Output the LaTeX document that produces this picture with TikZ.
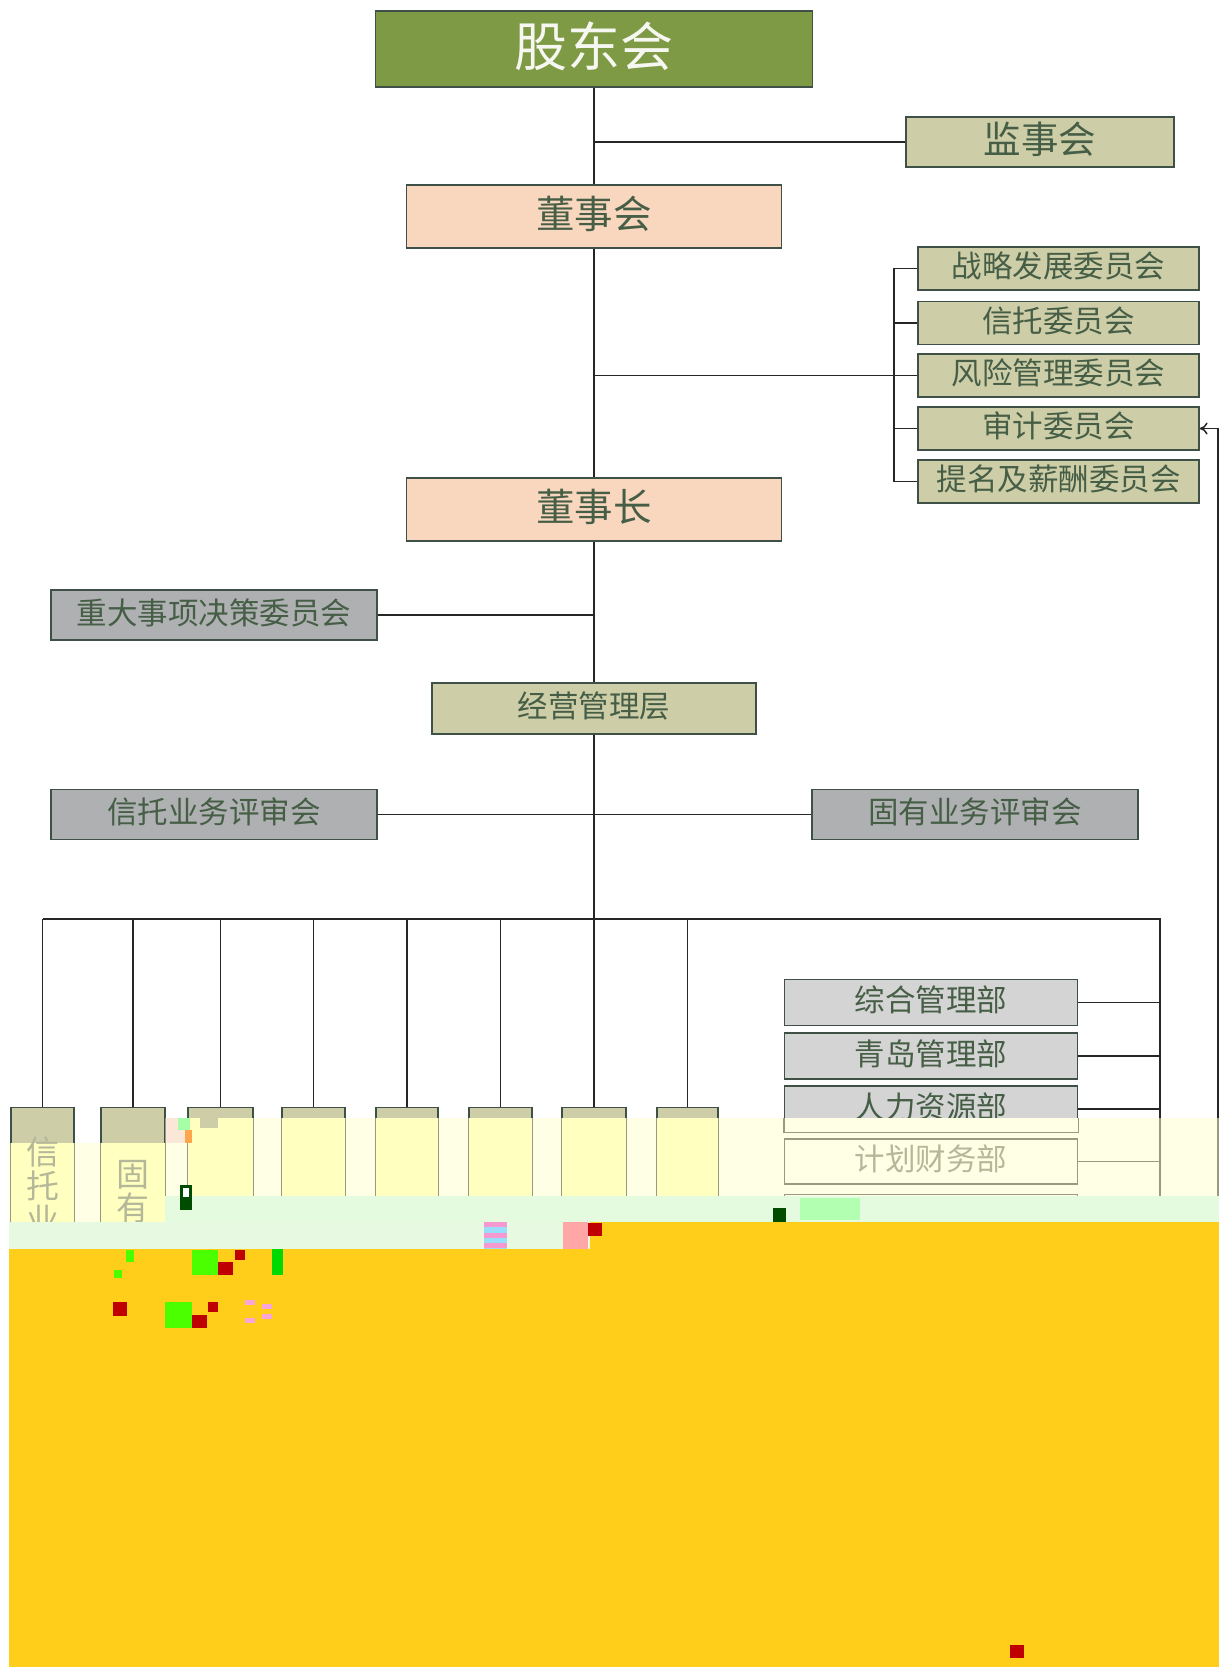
\documentclass[tikz,border=0pt]{standalone}
\usepackage{fontspec}
\usetikzlibrary{arrows.meta}
\setmainfont{Noto Sans CJK SC}
\definecolor{olive}{HTML}{7F9A44}
\definecolor{sand}{HTML}{CDCDA8}
\definecolor{peach}{HTML}{F9D6BE}
\definecolor{midgray}{HTML}{AEB0B2}
\definecolor{lightgray}{HTML}{D4D4D4}
\definecolor{ink}{HTML}{465E46}
\definecolor{edge}{HTML}{3F5147}
\definecolor{paleband}{HTML}{FFFFE6}
\definecolor{boxyellow}{HTML}{FFFFC0}
\definecolor{fadeedge}{HTML}{9A9A80}
\definecolor{fadeink}{HTML}{B4B898}
\definecolor{greenband}{HTML}{E4FBE0}
\definecolor{lowband}{HTML}{E8F9E2}
\definecolor{amber}{HTML}{FFCE1B}
\tikzset{
  box/.style={draw=edge,line width=1.3pt,inner sep=0pt,text=ink,text depth=7pt,font=\fontsize{30.5}{36}\selectfont},
  link/.style={draw=black!85,line width=1.5pt},
  fadelink/.style={draw=fadeedge,line width=1.3pt},
  fadebox/.style={draw=fadeedge,line width=1.3pt,inner sep=0pt,text=fadeink,text depth=7pt,font=\fontsize{30.5}{36}\selectfont},
  vlabel/.style={text=fadeink,inner sep=0pt,align=center,font=\fontsize{33}{34}\selectfont},
  gudong/.style={box,fill=olive,text=white!92!olive,minimum width=437pt,minimum height=76pt,text depth=10pt,font=\fontsize{53}{60}\selectfont},
  dongshi/.style={box,fill=peach,minimum width=375pt,minimum height=63pt,text depth=9pt,font=\fontsize{38.5}{44}\selectfont},
  jianshi/.style={box,fill=sand,minimum width=268pt,minimum height=50pt,text depth=9pt,font=\fontsize{37.5}{44}\selectfont},
  wei/.style={box,fill=sand,minimum width=281pt,minimum height=43pt},
  ping/.style={box,fill=midgray,minimum width=326pt,minimum height=50pt},
  jing/.style={box,fill=sand,minimum width=324pt,minimum height=51pt},
  bu/.style={box,fill=lightgray,minimum width=293pt,minimum height=46pt},
  vbox/.style={box,fill=sand,minimum height=200pt},
}
\begin{document}
\begin{tikzpicture}[x=1pt,y=-1pt]
\useasboundingbox (0,0) rectangle (1219,1667);
% top tiers
\node[gudong] (gd) at (594,49) {股东会};
\node[jianshi] (js) at (1040,142) {监事会};
\node[dongshi] (dsh) at (594,216.5) {董事会};
\node[wei] (w1) at (1058.5,268.5) {战略发展委员会};
\node[wei] (w2) at (1058.5,323) {信托委员会};
\node[wei] (w3) at (1058.5,375.5) {风险管理委员会};
\node[wei] (w4) at (1058.5,428.5) {审计委员会};
\node[wei] (w5) at (1058.5,481.5) {提名及薪酬委员会};
\node[dongshi] (dsz) at (594,509.5) {董事长};
\node[ping] (zd) at (214,615) {重大事项决策委员会};
\node[jing] (jy) at (594,708.5) {经营管理层};
\node[ping] (xt) at (214,814.5) {信托业务评审会};
\node[ping] (gy) at (975,814.5) {固有业务评审会};
% vertical departments
\node[vbox,minimum width=63pt,anchor=north] (v1) at (42.5,1107) {};
\node[vbox,minimum width=64pt,anchor=north] (v2) at (133,1107) {};
\node[vbox,minimum width=65pt,anchor=north] (v3) at (220.5,1107) {};
\node[vbox,minimum width=63pt,anchor=north] (v4) at (313.5,1107) {};
\node[vbox,minimum width=62pt,anchor=north] (v5) at (407,1107) {};
\node[vbox,minimum width=63pt,anchor=north] (v6) at (500.5,1107) {};
\node[vbox,minimum width=64pt,anchor=north] (v7) at (594,1107) {};
\node[vbox,minimum width=61pt,anchor=north] (v8) at (687.5,1107) {};
% right-hand departments
\node[bu] (b1) at (931,1002.5) {综合管理部};
\node[bu] (b2) at (931,1056) {青岛管理部};
\node[bu] (b3) at (931,1109) {人力资源部};
\coordinate (busL) at (42.5,919);
\coordinate (busR) at (1160,919);
\coordinate (busEnd) at (1160,1196);
\coordinate (wTrunk) at (894,375.5);
\coordinate (feed) at (1218,1118);
% connectors
\draw[link] (gd.south) -- (dsh.north);
\draw[link] (js.west) -- (js.west -| gd.south);
\draw[link] (dsh.south) -- (dsz.north);
\draw[link] (w3.west) -- (w3.west -| dsh.south);
\draw[link] (w1.west) -| (wTrunk) |- (w5.west);
\draw[link] (w2.west) -- (w2.west -| wTrunk);
\draw[link] (w4.west) -- (w4.west -| wTrunk);
\draw[link] (dsz.south) -- (jy.north);
\draw[link] (zd.east) -- (zd.east -| dsz.south);
\draw[link] (jy.south) -- (busL -| jy.south);
\draw[link] (xt.east) -- (gy.west);
\draw[link] (busL) -- (busR) -- (busEnd);
\foreach \n in {v1,v2,v3,v4,v5,v6,v7,v8} \draw[link] (\n.north |- busL) -- (\n.north);
\draw[link] (b1.east) -- (b1.east -| busR);
\draw[link] (b2.east) -- (b2.east -| busR);
\draw[link] (b3.east) -- (b3.east -| busR);
\draw[link,-{To[length=8pt,width=12pt]}] (feed) |- (w4.east);
% washed-out band of the damaged image
\fill[paleband] (8.5,1143) -- (165,1143) -- (165,1118) -- (1219,1118) -- (1219,1196) -- (165,1196) -- (165,1222) -- (8.5,1222) -- cycle;
\begin{scope}
\clip (8.5,1143) -- (165,1143) -- (165,1118) -- (1219,1118) -- (1219,1196) -- (165,1196) -- (165,1222) -- (8.5,1222) -- cycle;
\foreach \n in {v1,v2,v3,v4,v5,v6,v7,v8}
  \draw[fadelink,fill=boxyellow] (\n.north west) rectangle (\n.south east);
\draw[fadelink] (b3.north west) rectangle (b3.south east);
\draw[fadelink] (busR) -- (busEnd);
\draw[fadelink] (feed) -- +(0,100);
\end{scope}
\node[vlabel,anchor=north] (t1) at (42.5,1137) {信\\托\\业};
\node[vlabel,anchor=north] (t2) at (133,1160) {固\\有};
\node[fadebox,fill=paleband,minimum width=293pt,minimum height=45pt] (b4) at (931,1161.5) {计划财务部};
\node[fadebox,fill=paleband,minimum width=293pt,minimum height=45pt,anchor=north] (b5) at (931,1194) {};
\draw[fadelink] (b4.east) -- (b4.east -| busR);
% colour bands
\fill[greenband] (165,1196) rectangle (1219,1222);
\fill[lowband] (8.5,1222) rectangle (590,1249);
\fill[amber] (8.5,1249) rectangle (1219,1667);
\fill[amber] (590,1222) rectangle (1219,1249);
% stray blocks
\fill[peach!60!white] (166,1118) rectangle (190,1143);
\fill[green!35!white] (178,1118) rectangle (190,1130);
\fill[orange!70] (185,1130) rectangle (192,1143);
\fill[sand] (200,1118) rectangle (218,1128);
\fill[black!70!green] (180,1185) rectangle (192,1210);
\fill[white] (183,1188) rectangle (189,1197);
\fill[black!70!green] (773,1208) rectangle (786,1222);
\fill[white!70!green] (800,1198) rectangle (860,1220);
\fill[cyan!40] (484,1222) rectangle (507,1249);
\foreach \y in {1222,1233,1243} \fill[magenta!40] (484,\y) rectangle (507,\y+5);
\fill[red!35!white] (563,1222) rectangle (588,1249);
\fill[red!75!black] (588,1223) rectangle (602,1236);
\fill[green!85!black] (272,1249) rectangle (283,1275);
\fill[green!70!yellow] (192,1250) rectangle (218,1275);
\fill[green!70!yellow] (165,1302) rectangle (192,1328);
\fill[red!75!black] (218,1262) rectangle (233,1275);
\fill[red!75!black] (192,1315) rectangle (207,1328);
\fill[red!75!black] (113,1302) rectangle (127,1316);
\fill[red!75!black] (235,1250) rectangle (245,1260);
\fill[red!75!black] (208,1302) rectangle (218,1312);
\fill[green!70!yellow] (114,1270) rectangle (122,1278);
\fill[green!70!yellow] (126,1250) rectangle (134,1262);
\fill[magenta!35] (245,1300) rectangle (255,1305);
\fill[magenta!35] (262,1304) rectangle (272,1309);
\fill[magenta!35] (245,1318) rectangle (255,1323);
\fill[magenta!35] (262,1314) rectangle (272,1319);
\fill[red!75!black] (1010,1645) rectangle (1024,1658);
\end{tikzpicture}
\end{document}
